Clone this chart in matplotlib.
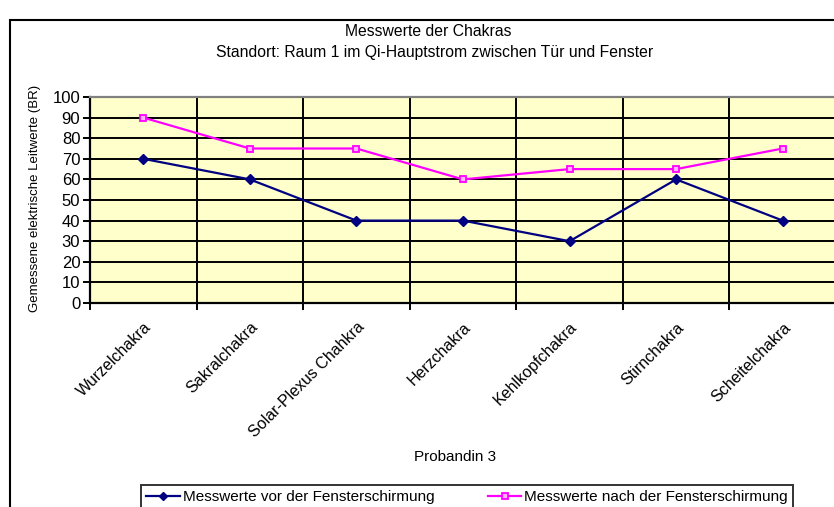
import matplotlib.pyplot as plt
from matplotlib.patches import Rectangle
from matplotlib.ticker import MultipleLocator, FixedLocator

plt.rcParams['font.family'] = ['Liberation Sans', 'DejaVu Sans']

# data
chakras = ['Wurzelchakra', 'Sakralchakra', 'Solar-Plexus Chahkra', 'Herzchakra',
           'Kehlkopfchakra', 'Stirnchakra', 'Scheitelchakra']
vor = [70, 60, 40, 40, 30, 60, 40]
nach = [90, 75, 75, 60, 65, 65, 75]

W, H = 834, 507
fig = plt.figure(figsize=(W / 100, H / 100), dpi=100)

# outer chart border (cropped on right/bottom)
fig.patches.append(Rectangle((10 / W, -0.1), 1.2, 1 - 20 / H + 0.1,
                             transform=fig.transFigure, fill=False,
                             edgecolor='black', linewidth=1.5))

ax = fig.add_axes([90 / W, 1 - 303 / H, 746 / W, 206 / H])
ax.set_facecolor('#FFFFCC')

x = list(range(len(chakras)))
ax.plot(x, vor, color='#000080', marker='D', markersize=5, linewidth=1.6,
        label='Messwerte vor der Fensterschirmung', zorder=3)
ax.plot(x, nach, color='#FF00FF', marker='s', markersize=5, linewidth=1.6,
        markerfacecolor='#FFB3FF', markeredgewidth=1.3,
        label='Messwerte nach der Fensterschirmung', zorder=3)

ax.set_xlim(-0.5, len(chakras) - 0.5)
ax.set_ylim(0, 100)
ax.yaxis.set_major_locator(MultipleLocator(10))
ax.grid(axis='y', color='black', linewidth=1.4)
for b in range(1, len(chakras)):
    ax.axvline(b - 0.5, color='black', linewidth=1.4, zorder=1)
ax.set_axisbelow(True)

ax.xaxis.set_major_locator(FixedLocator([i - 0.5 for i in range(len(chakras) + 1)]))
ax.xaxis.set_minor_locator(FixedLocator(x))
ax.set_xticklabels([])
ax.set_xticklabels(chakras, minor=True, rotation=45, ha='right', rotation_mode='anchor',
                   fontsize=11.5)
ax.tick_params(axis='x', which='major', length=5, width=1.4, direction='out')
ax.tick_params(axis='x', which='minor', length=0, pad=12)
ax.tick_params(axis='y', length=5, width=1.4, direction='out', labelsize=12, pad=2)

for s in ['left', 'bottom']:
    ax.spines[s].set_linewidth(1.6)
    ax.spines[s].set_color('black')
ax.spines['top'].set_color('#808080')
ax.spines['top'].set_linewidth(1.6)
ax.spines['right'].set_visible(False)

fig.text(35 / W, 1 - 198 / H, 'Gemessene elektrische Leitwerte (BR)', rotation=90,
         ha='center', va='center', fontsize=9.5)

fig.text(428 / W, 1 - 32 / H, 'Messwerte der Chakras', ha='center', va='center', fontsize=11.3)
fig.text(435 / W, 1 - 52 / H, 'Standort: Raum 1 im Qi-Hauptstrom zwischen Tür und Fenster',
         ha='center', va='center', fontsize=11.3)
fig.text(455 / W, 1 - 457 / H, 'Probandin 3', ha='center', va='center', fontsize=11)

leg = fig.legend(loc='center', bbox_to_anchor=(467 / W, 1 - 497 / H), ncol=2,
                 fontsize=11, frameon=True, fancybox=False, edgecolor='black',
                 borderpad=0.3, handlelength=2.2, handletextpad=0.2, columnspacing=3.5,
                 markerscale=0.8)
leg.get_frame().set_linewidth(1.4)

fig.savefig('out.png', dpi=100)
